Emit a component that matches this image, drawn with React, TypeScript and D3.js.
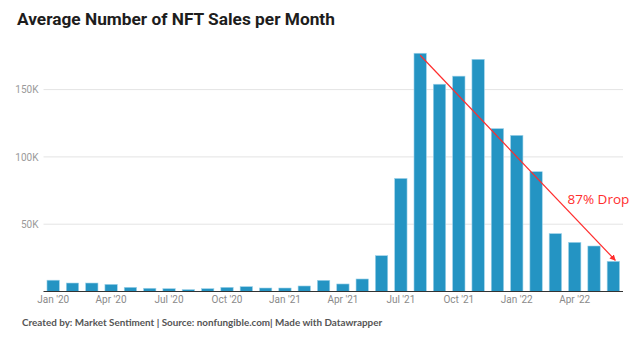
import React from "react";
import * as d3 from "d3";

const months = [
  "Jan '20","Feb '20","Mar '20","Apr '20","May '20","Jun '20","Jul '20","Aug '20","Sep '20","Oct '20","Nov '20","Dec '20",
  "Jan '21","Feb '21","Mar '21","Apr '21","May '21","Jun '21","Jul '21","Aug '21","Sep '21","Oct '21","Nov '21","Dec '21",
  "Jan '22","Feb '22","Mar '22","Apr '22","May '22","Jun '22",
];
const sales = [
  8.4, 6.3, 6.3, 5.3, 3.1, 2.4, 2.1, 1.4, 2.1, 3.1, 3.6, 2.6,
  2.6, 4.1, 8.3, 5.6, 9.3, 26.6, 84, 177, 154, 160, 172.5, 121,
  116, 89, 43, 36.5, 33.8, 22.4,
].map((v) => v * 1000);
const xTickLabels = ["Jan '20","Apr '20","Jul '20","Oct '20","Jan '21","Apr '21","Jul '21","Oct '21","Jan '22","Apr '22"];
const yTicks = [50000, 100000, 150000];
const title = "Average Number of NFT Sales per Month";
const footer = "Created by: Market Sentiment | Source: nonfungible.com| Made with Datawrapper";
const annotation = "87% Drop";
const arrowFrom = "Aug '21";
const arrowTo = "Jun '22";

export default function App() {
  const W = 640, H = 337;
  const x = d3.scaleBand<string>().domain(months).range([43.5, 623]).paddingInner(0.36).paddingOuter(0.18);
  const y = d3.scaleLinear().domain([0, 50000]).range([291.5, 224.2]);
  const fmt = (v: number) => `${v / 1000}K`;
  const cx = (m: string) => (x(m) as number) + x.bandwidth() / 2;
  const fromIdx = months.indexOf(arrowFrom);
  const toIdx = months.indexOf(arrowTo);
  const x1 = cx(arrowFrom), y1 = y(sales[fromIdx]) + 2;
  const x2 = cx(arrowTo) + 2, y2 = y(sales[toIdx]) - 1;
  return (
    <svg width={W} height={H} style={{ position: "absolute", left: 0, top: 0, background: "#fff" }}>
      <defs>
        <marker id="ah" viewBox="0 0 10 10" refX="9" refY="5" markerWidth="5" markerHeight="5" orient="auto">
          <path d="M0,0 L10,5 L0,10 z" fill="#ff2d2d" />
        </marker>
      </defs>
      <rect width={W} height={H} fill="#fff" />
      <text x={17} y={25} fontFamily="Roboto" fontWeight={700} fontSize={17.3} fill="#1d1d1d">{title}</text>
      {yTicks.map((t) => (
        <g key={t}>
          <line x1={43.5} x2={623} y1={y(t)} y2={y(t)} stroke="#e4e4e4" strokeWidth={1} />
          <text x={38.5} y={y(t) + 3.6} textAnchor="end" fontFamily="Roboto" fontSize={10} fill="#9a9a9a">{fmt(t)}</text>
        </g>
      ))}
      {months.map((m, i) => (
        <rect key={m} x={x(m)} y={y(sales[i])} width={x.bandwidth()} height={y(0) - y(sales[i])}
          fill="#2494c3" stroke="#9fd3ea" strokeWidth={0.6} />
      ))}
      <line x1={43.5} x2={623} y1={y(0)} y2={y(0)} stroke="#333" strokeWidth={1.2} />
      {xTickLabels.map((m) => (
        <text key={m} x={cx(m)} y={303} textAnchor="middle" fontFamily="Roboto" fontSize={10} fill="#8a8a8a">{m}</text>
      ))}
      <line x1={x1} y1={y1} x2={x2} y2={y2} stroke="#ff2d2d" strokeWidth={1.2} markerEnd="url(#ah)" />
      <text x={567.5} y={204} fontFamily="Open Sans" fontWeight={500} fontSize={13.5} fill="#ff2d2d">{annotation}</text>
      <text x={22} y={326} fontFamily="Lato" fontWeight={700} fontSize={9.9} fill="#555">{footer}</text>
    </svg>
  );
}
